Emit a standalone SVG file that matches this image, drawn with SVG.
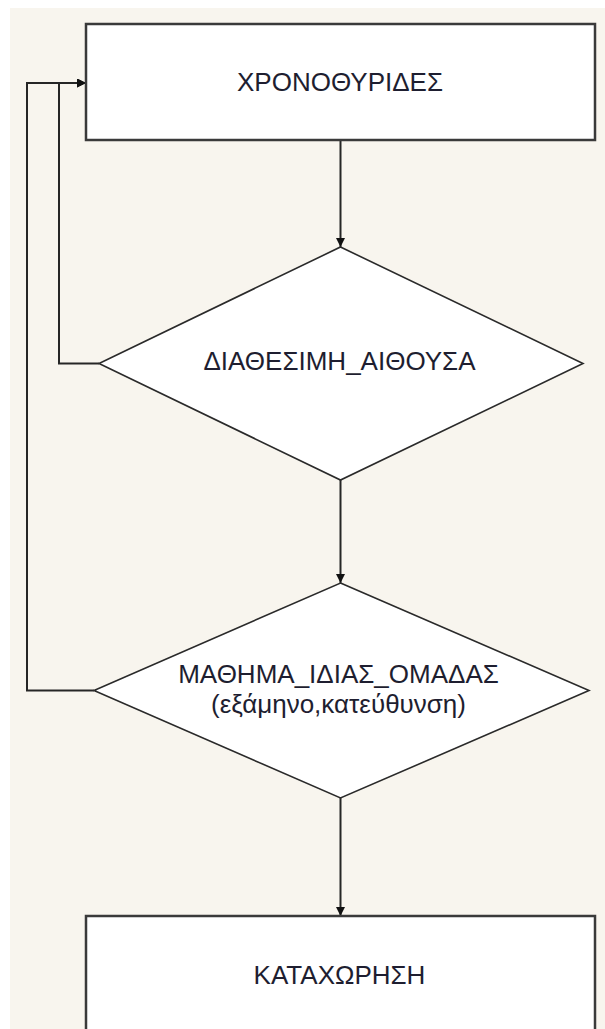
<svg xmlns="http://www.w3.org/2000/svg" width="605" height="1029" viewBox="0 0 605 1029">
  <defs>
    <style>
      .box { fill: #ffffff; stroke: #3a3a3a; stroke-width: 2.5; }
      .dec { fill: #ffffff; stroke: #2a2a2a; stroke-width: 1.6; }
      .link { fill: none; stroke: #262626; stroke-width: 2; }
      .lbl { font-family: "Liberation Sans", Arial, sans-serif; font-size: 26px; fill: #1e1e30; text-anchor: middle; }
    </style>
    <marker id="arrow" viewBox="0 0 10 10" refX="10" refY="5" markerWidth="9" markerHeight="9" markerUnits="userSpaceOnUse" orient="auto">
      <path d="M0,0 L10,5 L0,10 Z" fill="#111111"/>
    </marker>
  </defs>

  <!-- page background -->
  <rect x="0" y="0" width="605" height="1029" fill="#ffffff"/>
  <rect x="10" y="8" width="595" height="1021" fill="#f8f5ee"/>

  <!-- connectors -->
  <g id="connectors">
    <line class="link" x1="340.5" y1="140" x2="340.5" y2="247" marker-end="url(#arrow)"/>
    <line class="link" x1="340.5" y1="480" x2="340.5" y2="583" marker-end="url(#arrow)"/>
    <line class="link" x1="340.5" y1="798" x2="340.5" y2="916" marker-end="url(#arrow)"/>
    <!-- loop back from the room check -->
    <polyline class="link" points="99,363.5 59,363.5 59,83 86,83" marker-end="url(#arrow)"/>
    <!-- loop back from the group check -->
    <polyline class="link" points="94,690.5 27,690.5 27,83 86,83" marker-end="url(#arrow)"/>
  </g>

  <g id="node-slots">
    <rect class="box" x="86" y="24" width="509" height="116"/>
    <text class="lbl" x="340" y="90.5">ΧΡΟΝΟΘΥΡΙΔΕΣ</text>
  </g>

  <g id="node-room">
    <polygon class="dec" points="340.5,247 583,363.5 340.5,480 99,363.5"/>
    <text class="lbl" x="339.5" y="370">ΔΙΑΘΕΣΙΜΗ_ΑΙΘΟΥΣΑ</text>
  </g>

  <g id="node-group">
    <polygon class="dec" points="340.5,583 589,690.5 340.5,798 94,690.5"/>
    <text class="lbl" x="338.5" y="683">ΜΑΘΗΜΑ_ΙΔΙΑΣ_ΟΜΑΔΑΣ</text>
    <text class="lbl" x="338.5" y="713">(εξάμηνο,κατεύθυνση)</text>
  </g>

  <g id="node-entry">
    <rect class="box" x="86" y="916" width="509" height="130"/>
    <text class="lbl" x="339.5" y="984">ΚΑΤΑΧΩΡΗΣΗ</text>
  </g>
</svg>
